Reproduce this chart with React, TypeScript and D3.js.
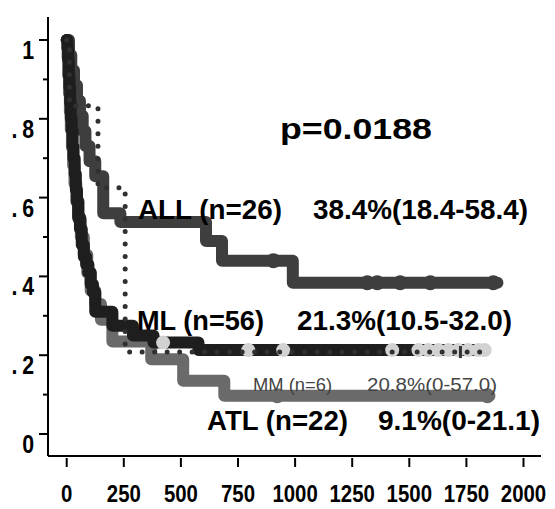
import React from "react";
import * as d3 from "d3";

// ---- data ----
const allTimes = [0, 10, 20, 32, 45, 58, 70, 82, 100, 125, 160, 235, 610, 680, 990, 1886];
const allSurv = [1, 0.962, 0.923, 0.885, 0.846, 0.808, 0.769, 0.731, 0.692, 0.654, 0.56, 0.538, 0.49, 0.44, 0.384, 0.384];
const allCensor = [905, 1316, 1360, 1460, 1592, 1868];

const mlTimes = [0, 3, 6, 9, 12, 15, 18, 22, 26, 30, 35, 40, 45, 50, 58, 66, 75, 85, 95, 105, 115, 125, 200, 290, 380, 577, 1830];
const mlSurv = [1, 0.98, 0.95, 0.91, 0.88, 0.84, 0.8, 0.77, 0.73, 0.7, 0.66, 0.62, 0.59, 0.55, 0.52, 0.48, 0.45, 0.43, 0.41, 0.38, 0.36, 0.31, 0.275, 0.25, 0.232, 0.213, 0.213];
const mlCensor = [422, 795, 948, 1425, 1540, 1583, 1627, 1671, 1714, 1758, 1802, 1830];

const atlTimes = [0, 4, 7, 10, 14, 18, 23, 28, 34, 42, 52, 62, 75, 90, 105, 125, 150, 200, 370, 510, 690, 1851];
const atlSurv = [1, 0.955, 0.909, 0.864, 0.818, 0.773, 0.727, 0.682, 0.636, 0.591, 0.545, 0.5, 0.455, 0.409, 0.364, 0.33, 0.29, 0.235, 0.19, 0.135, 0.097, 0.097];
const atlCensor = [922, 1842];

const mmTimes = [0, 12, 137, 256, 1855];
const mmSurv = [1, 0.833, 0.625, 0.208, 0.208];
const mmCensor = [1724];

const xTicks = [0, 250, 500, 750, 1000, 1250, 1500, 1750, 2000];
const yTicks = [0, 0.2, 0.4, 0.6, 0.8, 1];
const yTickLabels = ["0", ".2", ".4", ".6", ".8", "1"];
const yMinor = [0.1, 0.3, 0.5, 0.7, 0.9];

const pText = "p=0.0188";
const labels = [
  { name: "ALL (n=26)", stat: "38.4%(18.4-58.4)" },
  { name: "ML (n=56)", stat: "21.3%(10.5-32.0)" },
  { name: "MM (n=6)", stat: "20.8%(0-57.0)" },
  { name: "ATL (n=22)", stat: "9.1%(0-21.1)" },
];

export default function App() {
  const W = 555, H = 509;
  const x = d3.scaleLinear().domain([0, 2000]).range([66.7, 523.5]);
  const y = d3.scaleLinear().domain([0, 1]).range([434, 40]);
  const axisX = 48, axisY = 456;

  const line = d3
    .line<[number, number]>()
    .x((d) => x(d[0]))
    .y((d) => y(d[1]))
    .curve(d3.curveStepAfter);

  const zip = (t: number[], s: number[]) => t.map((v, i) => [v, s[i]] as [number, number]);
  const survAt = (t: number[], s: number[], day: number) => {
    let v = s[0];
    for (let i = 0; i < t.length; i++) if (t[i] <= day) v = s[i];
    return v;
  };

  const font = "'Liberation Sans', Arial, Helvetica, sans-serif";
  const bw = 12;

  const T = (props: { x: number; y: number; len: number; size: number; text: string; bold?: boolean; fill?: string }) => (
    <text
      x={props.x}
      y={props.y}
      textLength={props.len}
      lengthAdjust="spacingAndGlyphs"
      fontFamily={font}
      fontWeight={props.bold === false ? "normal" : "bold"}
      fontSize={props.size}
      fill={props.fill || "#000"}
    >
      {props.text}
    </text>
  );

  return (
    <div style={{ position: "fixed", left: 0, top: 0 }}>
      <svg width={W} height={H} style={{ display: "block", background: "#fff" }}>
        {/* curves */}
        <path d={line(zip(atlTimes, atlSurv)) || ""} fill="none" stroke="#6a6a6a" strokeWidth={bw} strokeLinejoin="round" strokeLinecap="round" />
        {atlCensor.map((c, i) => (
          <circle key={"ac" + i} cx={x(c)} cy={y(survAt(atlTimes, atlSurv, c))} r={7.5} fill="#6a6a6a" />
        ))}
        <path d={line(zip(allTimes, allSurv)) || ""} fill="none" stroke="#3e3e3e" strokeWidth={bw} strokeLinejoin="round" strokeLinecap="round" />
        {allCensor.map((c, i) => (
          <circle key={"alc" + i} cx={x(c)} cy={y(survAt(allTimes, allSurv, c))} r={7.5} fill="#3e3e3e" />
        ))}
        <path d={line(zip(mlTimes, mlSurv)) || ""} fill="none" stroke="#1e1e1e" strokeWidth={bw} strokeLinejoin="round" strokeLinecap="round" />
        {mlCensor.map((c, i) => (
          <circle key={"mc" + i} cx={x(c)} cy={y(survAt(mlTimes, mlSurv, c))} r={7} fill="#d2d2d2" />
        ))}
        <path d={line(zip(mmTimes, mmSurv)) || ""} fill="none" stroke="#303030" strokeWidth={5} strokeDasharray="0 12.5" strokeLinecap="round" />
        {mmCensor.map((c, i) => (
          <line key={"mmc" + i} x1={x(c)} x2={x(c)} y1={y(survAt(mmTimes, mmSurv, c)) - 6} y2={y(survAt(mmTimes, mmSurv, c)) + 6} stroke="#333" strokeWidth={3} />
        ))}

        {/* axes */}
        <line x1={axisX} x2={axisX} y1={17} y2={axisY} stroke="#000" strokeWidth={2} />
        <line x1={axisX} x2={541} y1={axisY} y2={axisY} stroke="#000" strokeWidth={2} />
        {yTicks.map((t, i) => (
          <g key={"yt" + i}>
            <line x1={axisX - 9} x2={axisX} y1={y(t)} y2={y(t)} stroke="#000" strokeWidth={2} />
            <text transform={`translate(39,${y(t) + 19}) scale(0.82,1)`} textAnchor="end" fontFamily={font} fontWeight="bold" fontSize={26} letterSpacing={6} fill="#000">
              {yTickLabels[i]}
            </text>
          </g>
        ))}
        {yMinor.map((t, i) => (
          <line key={"ym" + i} x1={axisX - 5} x2={axisX} y1={y(t)} y2={y(t)} stroke="#000" strokeWidth={2} />
        ))}
        {xTicks.map((t, i) => (
          <g key={"xt" + i}>
            <line x1={x(t)} x2={x(t)} y1={axisY + 2} y2={axisY + 11} stroke="#000" strokeWidth={2} />
            <text transform={`translate(${x(t)},${502}) scale(0.85,1)`} textAnchor="middle" fontFamily={font} fontWeight="bold" fontSize={24} fill="#000">
              {t}
            </text>
          </g>
        ))}

        {/* annotations */}
        <T x={280} y={139} len={152} size={30} text={pText} />
        <T x={138} y={219} len={144} size={28} text={labels[0].name} />
        <T x={313} y={219} len={215} size={28} text={labels[0].stat} />
        <T x={137} y={330} len={127} size={28} text={labels[1].name} />
        <T x={297} y={330} len={215} size={28} text={labels[1].stat} />
        <T x={253} y={391} len={79} size={18} text={labels[2].name} bold={false} fill="#444" />
        <T x={367} y={391} len={130} size={18} text={labels[2].stat} bold={false} fill="#444" />
        <T x={207} y={430} len={141} size={28} text={labels[3].name} />
        <T x={378} y={430} len={162} size={28} text={labels[3].stat} />
      </svg>
    </div>
  );
}
